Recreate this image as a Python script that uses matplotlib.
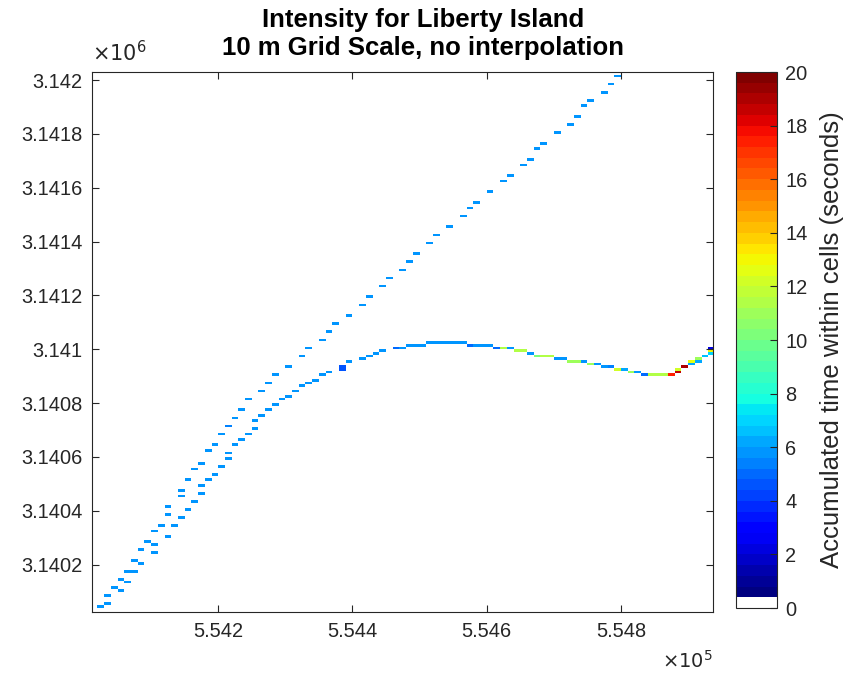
import numpy as np
import matplotlib
matplotlib.use("Agg")
import matplotlib.pyplot as plt
from matplotlib.colors import ListedColormap

# 10 m grid, each entry is the lower-left corner (UTM metres) of an occupied cell
cell = 10

# straight pass (upper track)
upper_x = [554020, 554030, 554040, 554050, 554060, 554070, 554080, 554090, 554100, 554110,
           554120, 554120, 554140, 554140, 554150, 554160, 554170, 554180, 554190, 554200,
           554210, 554220, 554230, 554240, 554260, 554270, 554280, 554300, 554320, 554330,
           554350, 554360, 554370, 554390, 554410, 554420, 554440, 554450, 554470, 554480,
           554490, 554510, 554520, 554540, 554560, 554570, 554580, 554600, 554620, 554630,
           554650, 554660, 554670, 554680, 554700, 554720, 554730, 554740, 554750, 554770,
           554780, 554790]
upper_y = [3140040, 3140080, 3140110, 3140140, 3140170, 3140210, 3140250, 3140280, 3140320, 3140340,
           3140380, 3140410, 3140450, 3140470, 3140510, 3140550, 3140570, 3140620, 3140640, 3140680,
           3140710, 3140740, 3140770, 3140810, 3140840, 3140870, 3140900, 3140930, 3140970, 3141000,
           3141030, 3141060, 3141090, 3141120, 3141160, 3141190, 3141230, 3141260, 3141290, 3141320,
           3141350, 3141390, 3141420, 3141450, 3141490, 3141520, 3141540, 3141580, 3141620, 3141640,
           3141680, 3141700, 3141740, 3141760, 3141800, 3141830, 3141860, 3141900, 3141920, 3141950,
           3141980, 3142010]
upper_t = [5.8, 5.8, 5.8, 5.8, 5.8, 5.8, 5.8, 5.8, 5.8, 5.8,
           5.8, 5.8, 5.8, 5.8, 5.8, 5.8, 5.8, 5.8, 5.8, 5.8,
           5.5, 5.8, 5.8, 5.8, 5.8, 5.8, 5.8, 5.8, 5.8, 5.8,
           5.8, 5.8, 5.8, 5.8, 5.8, 5.8, 5.8, 5.8, 5.8, 5.8,
           5.8, 5.8, 5.8, 5.8, 5.8, 5.8, 5.8, 5.8, 5.8, 5.8,
           5.8, 5.8, 5.8, 5.8, 5.8, 5.8, 5.8, 5.8, 5.8, 5.8,
           5.8, 5.8]

# curved pass (lower track)
lower_x = [554030, 554050, 554060, 554070, 554080, 554100, 554100, 554120, 554130, 554140,
           554150, 554160, 554170, 554170, 554180, 554190, 554200, 554210, 554210, 554220,
           554230, 554240, 554250, 554250, 554260, 554270, 554280, 554290, 554300, 554310,
           554320, 554330, 554340, 554350, 554360, 554380, 554380, 554390, 554410, 554420,
           554430, 554440, 554460, 554470, 554480, 554490, 554500, 554510, 554520, 554530,
           554540, 554550, 554560, 554570, 554580, 554590, 554600, 554610, 554620, 554630,
           554640, 554650, 554660, 554670, 554680, 554690, 554700, 554710, 554720, 554730,
           554740, 554750, 554760, 554770, 554780, 554790, 554800, 554810, 554820, 554830,
           554840, 554850, 554860, 554870, 554880, 554880, 554890, 554900, 554900, 554910,
           554910, 554920, 554930, 554930, 554930]
lower_y = [3140050, 3140100, 3140130, 3140170, 3140200, 3140240, 3140270, 3140300, 3140340, 3140370,
           3140400, 3140430, 3140460, 3140490, 3140510, 3140530, 3140560, 3140590, 3140610, 3140640,
           3140660, 3140680, 3140700, 3140730, 3140750, 3140770, 3140790, 3140810, 3140820, 3140840,
           3140860, 3140870, 3140880, 3140900, 3140910, 3140920, 3140930, 3140950, 3140960, 3140970,
           3140980, 3140990, 3141000, 3141000, 3141010, 3141010, 3141010, 3141020, 3141020, 3141020,
           3141020, 3141020, 3141020, 3141010, 3141010, 3141010, 3141010, 3141000, 3141000, 3141000,
           3140990, 3140990, 3140980, 3140970, 3140970, 3140970, 3140960, 3140960, 3140950, 3140950,
           3140950, 3140940, 3140940, 3140930, 3140930, 3140920, 3140920, 3140910, 3140910, 3140900,
           3140900, 3140900, 3140900, 3140900, 3140910, 3140920, 3140930, 3140940, 3140950, 3140950,
           3140960, 3140970, 3140980, 3140990, 3141000]
lower_t = [5.8, 5.8, 5.8, 5.8, 5.8, 5.8, 5.8, 5.8, 5.8, 5.8,
           5.8, 5.8, 5.8, 5.8, 5.8, 5.8, 5.8, 5.8, 5.8, 5.8,
           5.8, 5.8, 5.8, 5.8, 5.8, 5.8, 5.8, 5.8, 5.8, 5.8,
           5.8, 5.8, 5.8, 5.8, 5.8, 4.5, 4.5, 5.8, 5.8, 5.8,
           5.8, 5.8, 5.0, 5.8, 5.8, 5.8, 5.8, 5.8, 5.8, 5.8,
           5.8, 5.8, 5.8, 5.0, 5.8, 5.8, 5.8, 5.0, 11.5, 5.8,
           11.5, 11.5, 5.8, 10.0, 11.5, 11.5, 5.8, 5.8, 11.0, 11.0,
           5.8, 11.0, 5.8, 5.8, 5.5, 12.0, 6.0, 11.0, 5.8, 5.0,
           11.5, 11.5, 11.5, 17.5, 18.5, 12.0, 19.0, 6.0, 12.5, 6.0,
           11.0, 6.5, 7.0, 13.0, 2.0]

x_lim = (554012, 554937)
y_lim = (3140024, 3142030)
x_ticks = [554200, 554400, 554600, 554800]
y_ticks = [3140200, 3140400, 3140600, 3140800, 3141000, 3141200, 3141400, 3141600, 3141800, 3142000]

# accumulate the cells into the grid
x_edges = np.arange(554010, 554940 + cell, cell)
y_edges = np.arange(3140020, 3142030 + cell, cell)
grid = np.zeros((len(y_edges) - 1, len(x_edges) - 1))
for xs, ys, ts in [(upper_x, upper_y, upper_t), (lower_x, lower_y, lower_t)]:
    for x, y, t in zip(xs, ys, ts):
        grid[(y - y_edges[0]) // cell, (x - x_edges[0]) // cell] = t

# white for empty cells, then jet
jet = plt.get_cmap('jet')(np.linspace(0, 1, 49))
cmap = ListedColormap(np.vstack([[1, 1, 1, 1], jet]))

plt.rcParams['font.family'] = ['Liberation Sans', 'DejaVu Sans']
grey = (0.15, 0.15, 0.15)

fig = plt.figure(figsize=(8.46, 6.88), dpi=100)
ax = fig.add_axes([92 / 846, 1 - 612 / 688, 621 / 846, 540 / 688])
mesh = ax.pcolormesh(x_edges, y_edges, grid, cmap=cmap, vmin=0, vmax=20, shading='flat')

ax.set_xlim(x_lim)
ax.set_ylim(y_lim)
ax.set_xticks(x_ticks)
ax.set_yticks(y_ticks)
ax.set_xticklabels(['%g' % (v / 1e5) for v in x_ticks])
ax.set_yticklabels(['%g' % (v / 1e6) for v in y_ticks])
ax.tick_params(direction='in', top=True, right=True, length=5, width=0.8,
               labelsize=14.4, colors=grey, pad=7)
for s in ax.spines.values():
    s.set_color(grey)
    s.set_linewidth(0.8)

fig.text(0.5, 1 - 34 / 688, 'Intensity for Liberty Island\n10 m Grid Scale, no interpolation',
         ha='center', va='center', fontsize=18.5, fontweight='bold', linespacing=1.22)
ax.text(0.0, 1.012, r'$\times10^6$', transform=ax.transAxes, ha='left', va='bottom',
        fontsize=15, color=grey)
ax.text(1.0, -0.09, r'$\times10^5$', transform=ax.transAxes, ha='right', va='center',
        fontsize=14, color=grey)

cax = fig.add_axes([736 / 846, 1 - 608 / 688, 41 / 846, 536 / 688])
cb = fig.colorbar(mesh, cax=cax, ticks=np.arange(0, 21, 2))
cb.outline.set_edgecolor(grey)
cb.outline.set_linewidth(0.8)
cax.tick_params(direction='in', length=5, width=0.8, labelsize=14.4, colors=grey, pad=6)
cb.set_label('Accumulated time within cells (seconds)', fontsize=18.5, color=grey, labelpad=9)

fig.savefig('out.png', dpi=100)
